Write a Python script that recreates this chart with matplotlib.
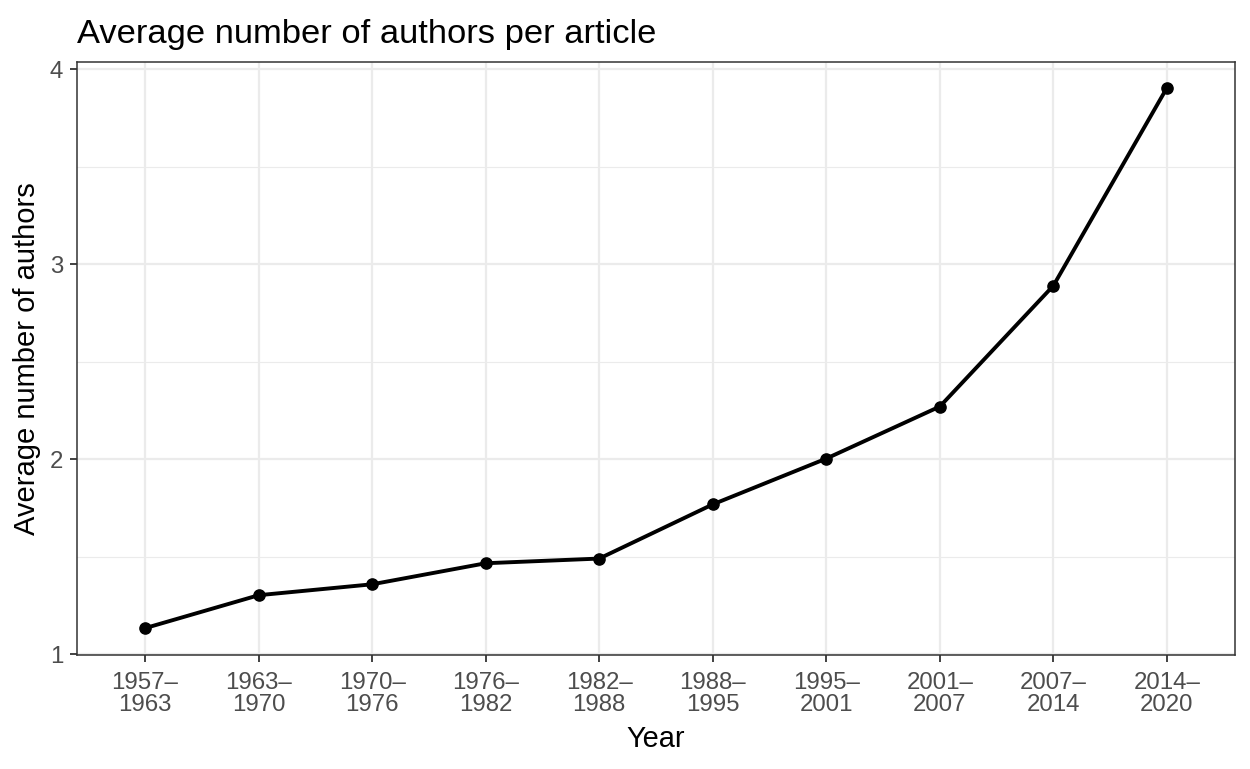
import matplotlib.pyplot as plt
import numpy as np
from matplotlib.ticker import MultipleLocator

plt.rcParams['font.family'] = ['Liberation Sans', 'DejaVu Sans']

# Data
periods = ['1957–\n1963', '1963–\n1970', '1970–\n1976', '1976–\n1982', '1982–\n1988',
           '1988–\n1995', '1995–\n2001', '2001–\n2007', '2007–\n2014', '2014–\n2020']
avg_authors = [1.133, 1.302, 1.358, 1.466, 1.49, 1.768, 2.003, 2.27, 2.89, 3.905]

x = np.arange(len(periods))

fig = plt.figure(figsize=(12.5, 7.69), dpi=100)
ax = fig.add_axes([0.0616, 0.1482, 0.9264, 0.7712])

ax.plot(x, avg_authors, color='black', lw=2.8, zorder=3)
ax.scatter(x, avg_authors, color='black', s=65, zorder=4)

ax.set_xlim(-0.6, len(periods) - 1 + 0.6)
ax.set_ylim(0.995, 4.038)
ax.set_xticks(x)
ax.set_xticklabels(periods, linespacing=1.0)
ax.set_yticks([1, 2, 3, 4])
ax.yaxis.set_minor_locator(MultipleLocator(0.5))

# ggplot-like theme_bw
ax.grid(True, which='major', color='#EBEBEB', lw=1.6, zorder=0)
ax.grid(True, which='minor', axis='y', color='#EBEBEB', lw=0.8, zorder=0)
ax.set_axisbelow(True)
for s in ax.spines.values():
    s.set_color('#333333')
    s.set_linewidth(1.1)
ax.tick_params(which='major', length=5, width=1.3, color='#333333',
               labelcolor='#4D4D4D', labelsize=17.3)
ax.tick_params(axis='x', which='major', pad=7)
ax.tick_params(axis='y', which='major', pad=5)
ax.tick_params(which='minor', length=0)

ax.set_xlabel('Year', fontsize=20.8, color='black', labelpad=7)
ax.set_ylabel('Average number of authors', fontsize=21, color='black', labelpad=6)
ax.set_title('Average number of authors per article', fontsize=24.8, loc='left',
             x=0.0, pad=14)

fig.savefig('out.png', dpi=100)
